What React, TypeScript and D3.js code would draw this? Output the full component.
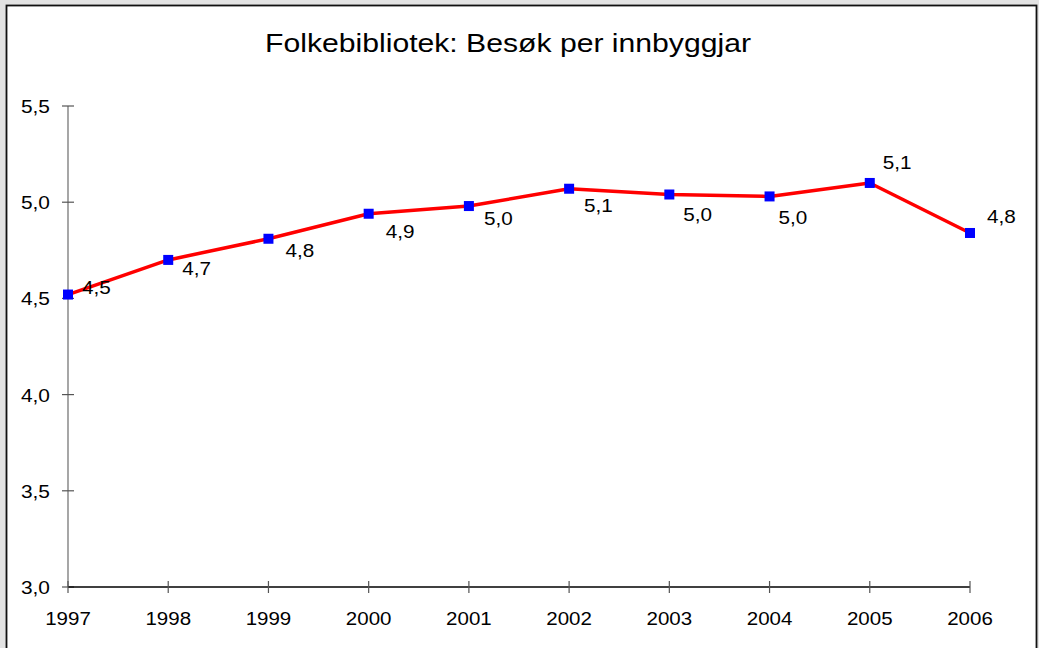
import React from "react";
import * as d3 from "d3";

const years = ["1997", "1998", "1999", "2000", "2001", "2002", "2003", "2004", "2005", "2006"];
const visits = [4.52, 4.70, 4.81, 4.94, 4.98, 5.07, 5.04, 5.03, 5.10, 4.84];
const yTicks = [3.0, 3.5, 4.0, 4.5, 5.0, 5.5];
const title = "Folkebibliotek: Besøk per innbyggjar";
// label placement offsets relative to each marker (dx, dy of baseline)
const labelDx = [14, 14, 17, 17, 15, 15, 14, 9, 13, 17];
const labelDy = [-1, 15, 18, 24, 19, 23, 26, 28, -14, -10];

const fmt = (v: number) => d3.format(".1f")(v).replace(".", ",");
const FONT = "'Liberation Sans', Arial, Helvetica, sans-serif";

function SText({ x, y, size, sx = 1.12, anchor = "start", children }: any) {
  return (
    <text
      transform={`translate(${x},${y}) scale(${sx},1)`}
      fontSize={size}
      fontFamily={FONT}
      textAnchor={anchor}
      fill="#000"
    >
      {children}
    </text>
  );
}

export default function App() {
  const W = 1039, H = 648;
  const x = d3.scalePoint<string>().domain(years).range([68, 970]);
  const y = d3.scaleLinear().domain([3, 5.5]).range([587, 106]);
  const line = d3
    .line<number>()
    .x((_, i) => x(years[i]) as number)
    .y((d) => y(d));

  return (
    <div style={{ position: "fixed", left: 0, top: 0, width: W, height: H }}>
      <svg width={W} height={H} style={{ display: "block" }}>
        <rect x={0} y={0} width={W} height={H} fill="#e3e3e3" />
        <rect x={6.5} y={5.5} width={1030} height={700} fill="#fff" stroke="#111" strokeWidth={1.8} />
        <SText x={508} y={52} size={26} sx={1.16} anchor="middle">{title}</SText>

        {/* y axis */}
        <line x1={68} x2={68} y1={y(5.5)} y2={y(3)} stroke="#777" strokeWidth={1.3} />
        {yTicks.map((t) => (
          <g key={t}>
            <line x1={62} x2={74} y1={y(t)} y2={y(t)} stroke="#555" strokeWidth={1.2} />
            <SText x={50} y={y(t) + 7} size={19} sx={1.1} anchor="end">{fmt(t)}</SText>
          </g>
        ))}

        {/* x axis */}
        <line x1={68} x2={970} y1={y(3)} y2={y(3)} stroke="#000" strokeWidth={1.5} />
        {years.map((yr) => (
          <g key={yr}>
            <line x1={x(yr)} x2={x(yr)} y1={y(3) - 6} y2={y(3) + 6} stroke="#555" strokeWidth={1.2} />
            <SText x={x(yr) as number} y={625} size={19} sx={1.08} anchor="middle">{yr}</SText>
          </g>
        ))}

        <path d={line(visits) || ""} fill="none" stroke="#ff0000" strokeWidth={3.5} strokeLinejoin="round" />
        {visits.map((v, i) => (
          <rect
            key={i}
            x={(x(years[i]) as number) - 5}
            y={y(v) - 5}
            width={10}
            height={10}
            fill="#0000ff"
          />
        ))}
        {visits.map((v, i) => (
          <SText key={i} x={(x(years[i]) as number) + labelDx[i]} y={y(v) + labelDy[i]} size={18} sx={1.15}>
            {fmt(v)}
          </SText>
        ))}
      </svg>
    </div>
  );
}
